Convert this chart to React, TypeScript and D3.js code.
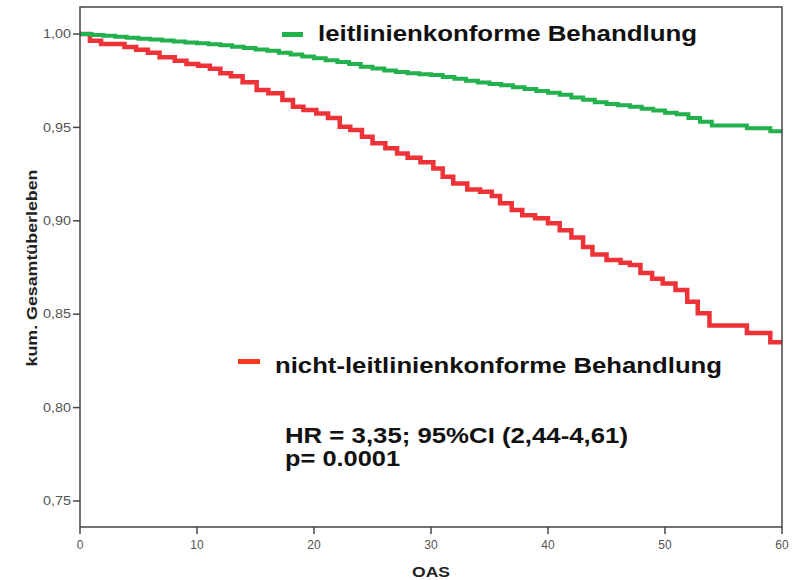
import * as d3 from 'd3';
import React from 'react';

// Kaplan-Meier steps (months, cumulative survival)
const greenTimes = [0, 1, 2, 3, 4, 5, 6, 7, 8, 9, 10, 11, 12, 13, 14, 15, 16, 17, 18, 19, 20, 21, 22, 23, 24, 25, 26, 27, 28, 29, 30, 31, 32, 33, 34, 35, 36, 37, 38, 39, 40, 41, 42, 43, 44, 45, 46, 47, 48, 49, 50, 51, 52, 53, 54, 57, 59, 60];
const greenSurv = [1.0, 0.9995, 0.999, 0.9985, 0.998, 0.9975, 0.997, 0.9965, 0.996, 0.9955,
  0.995, 0.9945, 0.994, 0.9932, 0.9925, 0.9917, 0.991, 0.99, 0.989, 0.988,
  0.987, 0.986, 0.985, 0.984, 0.9825, 0.9815, 0.9805, 0.9797, 0.979, 0.9785,
  0.978, 0.977, 0.976, 0.975, 0.974, 0.9733, 0.9725, 0.9715, 0.9705, 0.9695,
  0.9685, 0.9675, 0.966, 0.9648, 0.9635, 0.9625, 0.9618, 0.961, 0.96, 0.959,
  0.9578, 0.957, 0.955, 0.953, 0.951, 0.9495, 0.948, 0.948];

const redTimes = [0, 0.85, 1.8, 3.8, 4.8, 5.8, 6.8, 8.1, 9.1, 10.1, 11.1, 12, 12.9, 13.9, 15.1, 16.1, 17.3, 18.2, 19.1, 20.2, 21.2, 22.2, 23.1, 24.1, 25, 26.1, 27.1, 28, 29.1, 30.2, 31, 31.9, 33.1, 34.2, 35.2, 35.9, 36.9, 37.8, 38.9, 40, 41, 42, 43, 43.8, 45, 46.2, 47, 47.9, 48.9, 49.8, 50.9, 51.9, 52.8, 53.8, 57, 59, 60];
const redSurv = [1.0, 0.9964, 0.9946, 0.993, 0.9916, 0.99, 0.9875, 0.9857, 0.984, 0.983,
  0.9814, 0.979, 0.9774, 0.9742, 0.97, 0.9683, 0.9647, 0.961, 0.9593, 0.9575,
  0.955, 0.9504, 0.9486, 0.945, 0.9415, 0.9388, 0.936, 0.9338, 0.9313, 0.928,
  0.9236, 0.92, 0.9168, 0.9156, 0.9133, 0.9094, 0.9058, 0.903, 0.9013, 0.8987,
  0.895, 0.891, 0.886, 0.882, 0.879, 0.8776, 0.8763, 0.872, 0.869, 0.8665,
  0.863, 0.8567, 0.8505, 0.844, 0.84, 0.835, 0.835];

const xTicks = [0, 10, 20, 30, 40, 50, 60];
const yTicks = [0.75, 0.8, 0.85, 0.9, 0.95, 1.0];

const greenLabel = 'leitlinienkonforme Behandlung';
const redLabel = 'nicht-leitlinienkonforme Behandlung';
const hrText = 'HR = 3,35; 95%CI (2,44-4,61)';
const pText = 'p= 0.0001';

const GREEN = '#22b14c';
const RED = '#ee3338';
const AXIS = '#444';
const FONT = '"Liberation Sans", Arial, sans-serif';

export default function App() {
  const x = d3.scaleLinear().domain([0, 60]).range([80, 782]);
  const y = d3.scaleLinear().domain([0.75, 1.0]).range([501, 34]);

  const line = d3.line<[number, number]>()
    .x(d => x(d[0]))
    .y(d => y(d[1]))
    .curve(d3.curveStepAfter);

  const green = greenTimes.map((t, i) => [t, greenSurv[i]] as [number, number]);
  const red = redTimes.map((t, i) => [t, redSurv[i]] as [number, number]);

  return (
    <svg width={798} height={580} style={{ position: 'absolute', left: 0, top: 0, background: '#fff' }} fontFamily={FONT}>
      {/* curves */}
      <path d={line(red) || ''} fill="none" stroke={RED} strokeWidth={4.5} />
      <path d={line(green) || ''} fill="none" stroke={GREEN} strokeWidth={4} />

      {/* frame */}
      <rect x={80} y={7} width={702} height={520} fill="none" stroke={AXIS} strokeWidth={1.5} />

      {/* y axis */}
      {yTicks.map(v => (
        <g key={v}>
          <line x1={73} x2={80} y1={y(v)} y2={y(v)} stroke={AXIS} strokeWidth={1.5} />
          <text x={71} y={y(v)} dy="0.35em" textAnchor="end" fontSize={12} fill="#555"
            textLength={28} lengthAdjust="spacingAndGlyphs">
            {d3.format('.2f')(v).replace('.', ',')}
          </text>
        </g>
      ))}

      {/* x axis */}
      {xTicks.map(v => (
        <g key={v}>
          <line x1={x(v)} x2={x(v)} y1={527} y2={534} stroke={AXIS} strokeWidth={1.5} />
          <text x={x(v)} y={549} textAnchor="middle" fontSize={12} fill="#555">{v}</text>
        </g>
      ))}

      {/* axis titles */}
      <text x={431} y={577} textAnchor="middle" fontSize={14} fontWeight="bold" fill="#222"
        textLength={38} lengthAdjust="spacingAndGlyphs">OAS</text>
      <text transform="translate(37,268) rotate(-90)" textAnchor="middle" fontSize={15} fontWeight="bold" fill="#222"
        textLength={197} lengthAdjust="spacingAndGlyphs">kum. Gesamtüberleben</text>

      {/* legend */}
      <rect x={282} y={32} width={21} height={5} fill={GREEN} />
      <text x={318} y={41} fontSize={22} fontWeight="bold" fill="#111"
        textLength={379} lengthAdjust="spacingAndGlyphs">{greenLabel}</text>
      <rect x={238} y={359} width={22} height={5} fill="#f83a1c" />
      <text x={275} y={373} fontSize={22.5} fontWeight="bold" fill="#111"
        textLength={447} lengthAdjust="spacingAndGlyphs">{redLabel}</text>

      {/* stats */}
      <text x={285} y={443} fontSize={22} fontWeight="bold" fill="#111"
        textLength={343} lengthAdjust="spacingAndGlyphs">{hrText}</text>
      <text x={285} y={466} fontSize={22} fontWeight="bold" fill="#111"
        textLength={115} lengthAdjust="spacingAndGlyphs">{pText}</text>
    </svg>
  );
}
